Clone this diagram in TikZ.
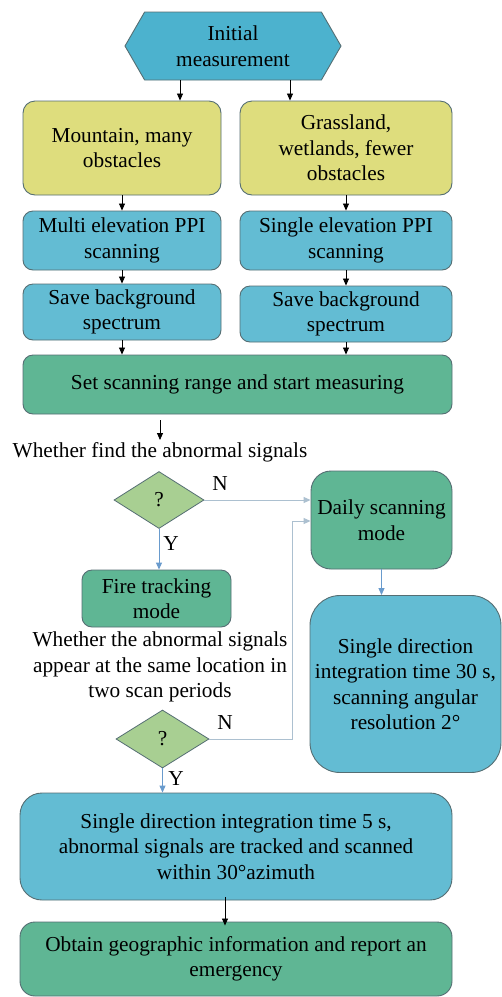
\documentclass[tikz,border=0pt]{standalone}
\usepackage{fontspec}
\setmainfont{Liberation Serif}
\usetikzlibrary{shapes.geometric,shapes.symbols,arrows.meta}
\definecolor{hexblue}{RGB}{76,178,206}
\definecolor{boxblue}{RGB}{99,188,211}
\definecolor{boxyellow}{RGB}{222,221,125}
\definecolor{boxgreen}{RGB}{95,182,148}
\definecolor{dmdgreen}{RGB}{168,207,146}
\definecolor{edge}{RGB}{85,110,115}
\definecolor{lineblue}{RGB}{105,155,205}
\definecolor{linegray}{RGB}{172,192,208}
\begin{document}
\begin{tikzpicture}[x=1pt,y=-1pt,
 every node/.style={font=\fontsize{21.3}{25.5}\selectfont,align=center,inner sep=2pt},
 box/.style={draw=edge,line width=0.9pt,rectangle,rounded corners=#1,inner sep=0pt},
 box/.default=10pt,
 dmd/.style={draw=edge,line width=0.8pt,fill=dmdgreen,diamond,inner sep=0pt},
 arr/.style={-{Triangle[length=7pt,width=6pt]},line width=0.8pt,black},
 barr/.style={-{Triangle[length=7pt,width=6pt]},line width=1pt,lineblue},
 garr/.style={-{Triangle[length=7pt,width=6pt]},line width=1pt,linegray}]
 \useasboundingbox[fill=white] (0,0) rectangle (502,997);
 \node[draw=edge,line width=0.9pt,fill=hexblue,signal,signal to=west and east,signal pointer angle=120,
  minimum width=216pt,minimum height=68pt,inner sep=0pt] (init) at (233,46) {Initial\\measurement};
 \node[box=12pt,fill=boxyellow,minimum width=198pt,minimum height=94pt] (mtn) at (122,148) {Mountain, many\\obstacles};
 \node[box=12pt,fill=boxyellow,minimum width=212pt,minimum height=94pt] (grass) at (346,148) {Grassland,\\wetlands, fewer\\obstacles};
 \node[box,fill=boxblue,minimum width=198pt,minimum height=59pt] (multi) at (122,240.5) {Multi elevation PPI\\scanning};
 \node[box,fill=boxblue,minimum width=212pt,minimum height=59pt] (single) at (346,240.5) {Single elevation PPI\\scanning};
 \node[box,fill=boxblue,minimum width=198pt,minimum height=56pt] (saveL) at (122,312) {Save background\\spectrum};
 \node[box,fill=boxblue,minimum width=212pt,minimum height=56pt] (saveR) at (346,314) {Save background\\spectrum};
 \node[box,fill=boxgreen,minimum width=429pt,minimum height=59pt] (setscan) at (237.5,384.5) {Set scanning range and start measuring};
 \node (q1) at (160,452) {Whether find the abnormal signals};
 \node[dmd,minimum width=90pt,minimum height=57pt] (d1) at (159,500) {?};
 \node[box=20pt,fill=boxgreen,minimum width=141pt,minimum height=98pt] (daily) at (381.5,520) {Daily scanning\\mode};
 \node[box,fill=boxgreen,minimum width=149pt,minimum height=57pt] (fire) at (156.5,598.5) {Fire tracking\\mode};
 \node (q2) at (160,667) {Whether the abnormal signals\\appear at the same location in\\two scan periods};
 \node[dmd,minimum width=93pt,minimum height=58pt] (d2) at (162.5,739) {?};
 \node[box=30pt,fill=boxblue,minimum width=191pt,minimum height=177pt] (res) at (405.5,684) {Single direction\\integration time 30 s,\\scanning angular\\resolution 2°};
 \node[box=22pt,fill=boxblue,minimum width=432pt,minimum height=107pt] (track) at (236,846.5) {Single direction integration time 5 s,\\abnormal signals are tracked and scanned\\within 30°azimuth};
 \node[box=15pt,fill=boxgreen,minimum width=432pt,minimum height=74pt] (report) at (236,959) {Obtain geographic information and report an\\emergency};
 \node (n1) at (220,484) {N};
 \node (y1) at (171,544) {Y};
 \node (n2) at (225,723) {N};
 \node (y2) at (176,779) {Y};
 \coordinate (nb) at (292,521);
 \draw[arr] ([xshift=-53pt]init.south) -- ([xshift=-53pt]init.south |- mtn.north);
 \draw[arr] ([xshift=57pt]init.south) -- ([xshift=57pt]init.south |- grass.north);
 \draw[arr] (mtn) -- (multi);
 \draw[arr] (grass) -- (single);
 \draw[arr] (multi) -- (saveL);
 \draw[arr] (single) -- (saveR);
 \draw[arr] (saveL) -- (saveL |- setscan.north);
 \draw[arr] (saveR) -- (saveR |- setscan.north);
 \draw[arr] ([yshift=-6pt]setscan.south -| q1.north) -- (q1.north);
 \draw[garr] (d1.east) -- (d1.east -| daily.west);
 \draw[barr] (d1.south) -- (d1.south |- fire.north);
 \draw[barr] (daily.south) -- (daily.south |- res.north);
 \draw[garr] (d2.east) -| (nb) -- (nb -| daily.west);
 \draw[barr] (d2.south) -- (d2.south |- track.north);
 \draw[arr] ([xshift=-11pt,yshift=3pt]track.south) -- ([xshift=-11pt,yshift=-4pt]report.north);
\end{tikzpicture}
\end{document}
